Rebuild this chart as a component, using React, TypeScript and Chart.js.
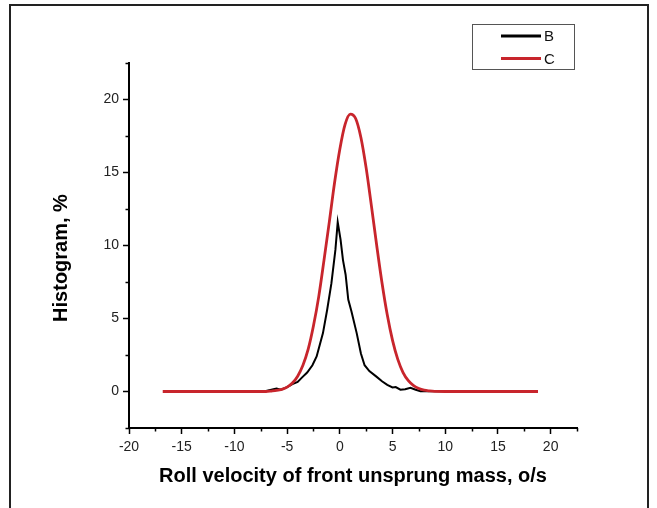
import React, { useEffect, useRef } from "react";
import { Chart, registerables } from "chart.js";

Chart.register(...registerables);

// ---- data ----
const seriesLabels = ["B", "C"];

const bX = [
  -12.5, -12, -11, -10, -8, -7, -6.3, -6.0, -5.6, -5.0, -4.5, -4.0, -3.6, -3.1, -2.6, -2.2,
  -1.9, -1.6, -1.2, -0.8, -0.42, -0.2, 0.07, 0.3, 0.55, 0.8, 1.1, 1.6, 2.0, 2.35, 2.8, 3.5,
  4.0, 4.5, 5.0, 5.3, 5.75, 6.2, 6.7, 7.2, 7.65, 8.5, 10, 12,
];
const bY = [
  0, 0.02, 0, 0.02, 0.01, 0.03, 0.15, 0.2, 0.12, 0.3, 0.5, 0.65, 0.95, 1.3, 1.8, 2.4,
  3.2, 4.0, 5.6, 7.4, 9.7, 11.6, 10.4, 9.0, 8.0, 6.3, 5.5, 4.0, 2.6, 1.8, 1.4, 1.0,
  0.7, 0.45, 0.28, 0.3, 0.12, 0.15, 0.25, 0.12, 0.02, 0.02, 0.01, 0,
];

const cX = [
  -16.8, -10, -7, -6.5, -6, -5.5, -5, -4.5, -4, -3.5, -3, -2.5, -2, -1.5, -1, -0.5, 0,
  0.5, 1.0, 1.5, 2.0, 2.5, 3.0, 3.5, 4.0, 4.5, 5.0, 5.5, 6.0, 6.5, 7.0, 7.5, 8.0, 8.5, 9, 10, 18.8,
];
const cY = [
  0, 0, 0, 0.03, 0.07, 0.15, 0.3, 0.58, 1.05, 1.8, 2.9, 4.5, 6.5, 9.0, 11.6, 14.3, 16.6,
  18.3, 19.0, 18.7, 17.4, 15.3, 12.7, 10.0, 7.45, 5.25, 3.5, 2.2, 1.3, 0.74, 0.4, 0.2, 0.09, 0.04, 0.01, 0, 0,
];

const X_TITLE = "Roll velocity of front unsprung mass, o/s";
const Y_TITLE = "Histogram, %";
const X_MIN = -20;
const X_MAX = 22.5;
const Y_MIN = -2.5;
const Y_MAX = 22.5;
const STEP = 2.5;

const colors = ["#000000", "#c8252c"];

const isMajor = (v: number) => Math.abs(v / 5 - Math.round(v / 5)) < 1e-6;

const decorPlugin = {
  id: "decor",
  beforeDraw(chart: any) {
    const ctx = chart.ctx;
    ctx.save();
    ctx.fillStyle = "#ffffff";
    ctx.fillRect(0, 0, chart.width, chart.height);
    // outer frame
    ctx.strokeStyle = "#222222";
    ctx.lineWidth = 2;
    ctx.beginPath();
    ctx.moveTo(10, 510);
    ctx.lineTo(10, 5);
    ctx.lineTo(648, 5);
    ctx.lineTo(648, 510);
    ctx.stroke();
    ctx.restore();
  },
  afterDraw(chart: any) {
    const ctx = chart.ctx;
    const xs = chart.scales.x;
    const ys = chart.scales.y;
    ctx.save();
    // minor ticks
    ctx.strokeStyle = "#000";
    ctx.lineWidth = 1.5;
    ctx.beginPath();
    for (const t of xs.ticks) {
      if (!isMajor(t.value)) {
        const px = Math.round(xs.getPixelForValue(t.value)) + 0.5;
        ctx.moveTo(px, xs.top);
        ctx.lineTo(px, xs.top + 3.5);
      }
    }
    for (const t of ys.ticks) {
      if (!isMajor(t.value)) {
        const py = Math.round(ys.getPixelForValue(t.value)) + 0.5;
        ctx.moveTo(ys.right, py);
        ctx.lineTo(ys.right - 3.5, py);
      }
    }
    ctx.stroke();

    // axis titles
    ctx.fillStyle = "#000";
    ctx.font = "bold 20px 'Liberation Sans', Arial, sans-serif";
    ctx.textAlign = "center";
    ctx.textBaseline = "alphabetic";
    ctx.fillText(X_TITLE, (xs.left + xs.right) / 2, 482);
    ctx.save();
    ctx.translate(67, 258);
    ctx.rotate(-Math.PI / 2);
    ctx.fillText(Y_TITLE, 0, 0);
    ctx.restore();

    // legend box
    ctx.strokeStyle = "#555";
    ctx.lineWidth = 1;
    ctx.strokeRect(472.5, 24.5, 102, 45);
    const rows = [36, 58.5];
    ctx.font = "15px 'Liberation Sans', Arial, sans-serif";
    ctx.textAlign = "left";
    ctx.textBaseline = "middle";
    chart.data.datasets.forEach((ds: any, i: number) => {
      ctx.strokeStyle = ds.borderColor;
      ctx.lineWidth = 3;
      ctx.beginPath();
      ctx.moveTo(501, rows[i]);
      ctx.lineTo(541, rows[i]);
      ctx.stroke();
      ctx.fillStyle = "#111";
      ctx.fillText(ds.label, 544, rows[i] + 1);
    });
    ctx.restore();
  },
};

export default function App() {
  const ref = useRef<HTMLCanvasElement | null>(null);

  useEffect(() => {
    if (!ref.current) return;
    const bData = bX.map((x, i) => ({ x, y: bY[i] }));
    const cData = cX.map((x, i) => ({ x, y: cY[i] }));
    const chart = new Chart(ref.current, {
      type: "line",
      data: {
        datasets: [
          {
            label: seriesLabels[0],
            data: bData,
            borderColor: colors[0],
            borderWidth: 2,
            pointRadius: 0,
            tension: 0,
            fill: false,
            order: 1,
          },
          {
            label: seriesLabels[1],
            data: cData,
            borderColor: colors[1],
            borderWidth: 2.8,
            pointRadius: 0,
            cubicInterpolationMode: "monotone",
            fill: false,
            order: 0,
          },
        ],
      },
      options: {
        responsive: false,
        animation: false,
        events: [],
        layout: { padding: { left: 0, top: 63, right: 80, bottom: 0 } },
        plugins: {
          legend: { display: false },
          tooltip: { enabled: false },
          title: { display: false },
        },
        scales: {
          x: {
            type: "linear",
            min: X_MIN,
            max: X_MAX,
            afterFit: (s: any) => {
              s.height = 80;
            },
            border: { display: true, color: "#000", width: 2 },
            grid: {
              drawOnChartArea: false,
              drawTicks: true,
              tickLength: 6,
              tickWidth: 1.5,
              tickColor: (c: any) => (c.tick && isMajor(c.tick.value) ? "#000" : "rgba(0,0,0,0)"),
            },
            ticks: {
              stepSize: STEP,
              autoSkip: false,
              maxRotation: 0,
              padding: 5,
              color: "#222",
              font: { family: "'Liberation Sans', Arial, sans-serif", size: 14 },
              callback: (v: any) => (isMajor(Number(v)) ? String(Math.round(Number(v))) : ""),
            },
          },
          y: {
            type: "linear",
            min: Y_MIN,
            max: Y_MAX,
            afterFit: (s: any) => {
              s.width = 129;
            },
            border: { display: true, color: "#000", width: 2 },
            grid: {
              drawOnChartArea: false,
              drawTicks: true,
              tickLength: 6,
              tickWidth: 1.5,
              tickColor: (c: any) => (c.tick && isMajor(c.tick.value) ? "#000" : "rgba(0,0,0,0)"),
            },
            ticks: {
              stepSize: STEP,
              autoSkip: false,
              padding: 4,
              color: "#222",
              font: { family: "'Liberation Sans', Arial, sans-serif", size: 14 },
              callback: (v: any) => (isMajor(Number(v)) ? String(Math.round(Number(v))) : ""),
            },
          },
        },
      },
      plugins: [decorPlugin],
    } as any);
    return () => chart.destroy();
  }, []);

  return (
    <div style={{ position: "absolute", left: 0, top: 0, width: 657, height: 508, background: "#fff" }}>
      <canvas ref={ref} width={657} height={508} style={{ display: "block" }} />
    </div>
  );
}
